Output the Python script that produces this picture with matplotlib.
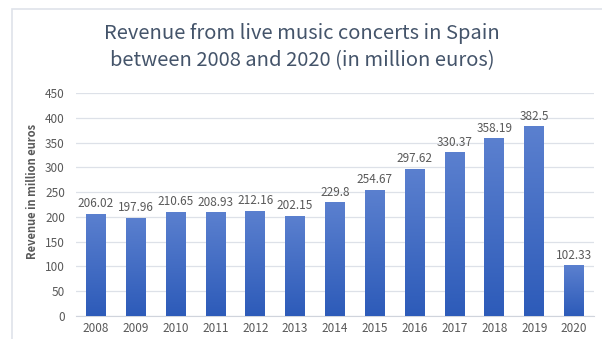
import matplotlib.pyplot as plt
import numpy as np
from matplotlib.colors import LinearSegmentedColormap
from matplotlib.patches import Rectangle

years = ["2008", "2009", "2010", "2011", "2012", "2013", "2014",
         "2015", "2016", "2017", "2018", "2019", "2020"]
revenue = [206.02, 197.96, 210.65, 208.93, 212.16, 202.15, 229.8,
           254.67, 297.62, 330.37, 358.19, 382.5, 102.33]
yticks = [0, 50, 100, 150, 200, 250, 300, 350, 400, 450]

plt.rcParams['font.family'] = ['Noto Sans CJK SC', 'DejaVu Sans']
text_grey = "#595959"
title_col = "#44546a"

fig = plt.figure(figsize=(6.02, 3.39), dpi=100)
# light frame around the whole chart
fig.patches.append(Rectangle((12 / 602, -0.05), 1.0, 1.05 - 9 / 339,
                             transform=fig.transFigure, fill=False,
                             edgecolor="#dfe3ea", linewidth=1.2))

ax = fig.add_axes([76 / 602, 1 - 316 / 339, (594 - 76) / 602, (316 - 93) / 339])

x = np.arange(len(years))
bars = ax.bar(x, revenue, width=0.5, color="none", edgecolor="none", zorder=3)

# vertical gradient fill for each bar
cmap = LinearSegmentedColormap.from_list("bluegrad", ["#2d5bb9", "#5b80cf"])
grad = np.linspace(0, 1, 256).reshape(-1, 1)
for b in bars:
    x0, w, h = b.get_x(), b.get_width(), b.get_height()
    im = ax.imshow(grad, cmap=cmap, aspect="auto", origin="lower",
                   extent=(x0, x0 + w, 0, h), zorder=3)
    im.set_clip_path(b)

for xi, v in zip(x, revenue):
    ax.text(xi, v + 7, f"{v:g}", ha="center", va="bottom",
            fontsize=8.5, color=text_grey)

ax.set_xlim(-0.5, len(years) - 0.5)
ax.set_ylim(0, 450)
ax.set_yticks(yticks)
ax.set_xticks(x)
ax.set_xticklabels(years)
ax.tick_params(axis="both", length=0, labelsize=8.5, labelcolor=text_grey)
ax.tick_params(axis="y", pad=8)
ax.tick_params(axis="x", pad=4)
ax.grid(axis="y", color="#dde1e8", linewidth=0.9, zorder=0)
ax.set_axisbelow(True)
for s in ["top", "right", "left"]:
    ax.spines[s].set_visible(False)
ax.spines["bottom"].set_color("#d0d4dc")

ax.set_ylabel("Revenue in million euros", fontsize=8, color=text_grey,
              fontweight="bold")
ax.yaxis.set_label_coords(-0.072, 0.56)

fig.text(0.502, 1 - 33 / 339, "Revenue from live music concerts in Spain",
         ha="center", va="center", fontsize=14.5, color=title_col)
fig.text(0.502, 1 - 61 / 339, "between 2008 and 2020 (in million euros)",
         ha="center", va="center", fontsize=14.5, color=title_col)

fig.savefig("out.png", dpi=100)
